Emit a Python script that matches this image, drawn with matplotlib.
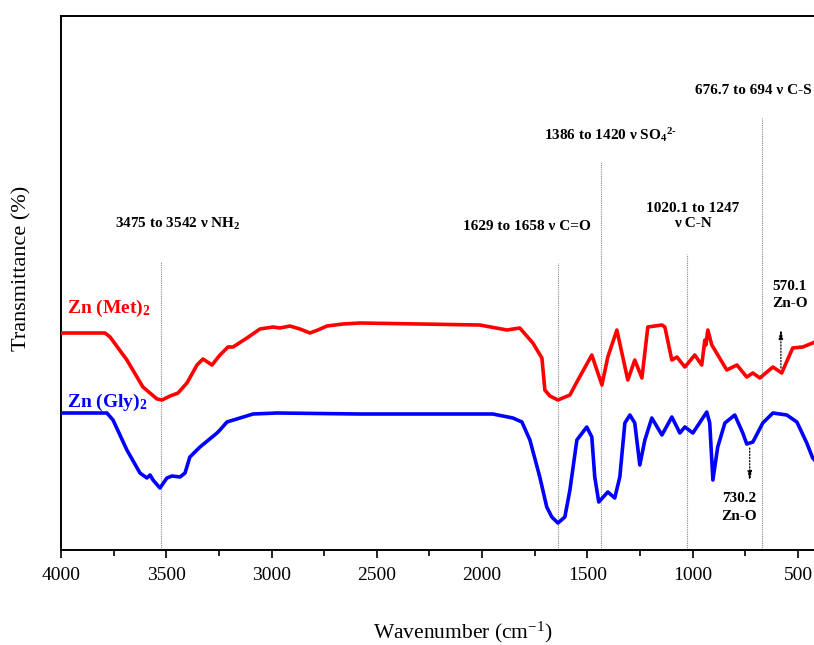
import numpy as np
import matplotlib
matplotlib.use("Agg")
import matplotlib.pyplot as plt
from matplotlib.ticker import MultipleLocator

plt.rcParams['font.family'] = ['Liberation Serif', 'DejaVu Serif']
plt.rcParams['mathtext.default'] = 'regular'

# FTIR spectra (wavenumber in cm-1, transmittance in arbitrary offset units)
met_wn = [4000, 3791, 3767, 3687, 3611, 3544, 3520, 3482, 3444, 3402, 3354, 3326,
          3283, 3245, 3207, 3183, 3117, 3055, 2993, 2960, 2913, 2865, 2818, 2780,
          2737, 2661, 2580, 2011, 1882, 1821, 1759, 1716, 1702, 1678, 1640, 1583,
          1550, 1479, 1431, 1403, 1360, 1308, 1275, 1241, 1213, 1146, 1132, 1099,
          1075, 1037, 990, 957, 942, 937, 928, 909, 838, 790, 743, 714, 681, 619,
          577, 525, 477, 430, 400]
met_t = [43.4, 43.4, 42.6, 38.0, 32.6, 30.2, 30.0, 30.8, 31.4, 33.4, 37.0, 38.2,
         37.0, 39.0, 40.6, 40.6, 42.4, 44.2, 44.6, 44.4, 44.8, 44.2, 43.4, 44.0,
         44.8, 45.2, 45.4, 45.0, 44.0, 44.4, 41.4, 38.4, 32.0, 30.8, 30.0, 31.0,
         33.6, 39.0, 33.0, 38.6, 44.0, 34.0, 38.0, 34.4, 44.6, 45.0, 44.6, 38.0,
         38.6, 36.6, 39.0, 37.0, 42.0, 41.0, 44.0, 41.0, 36.0, 37.0, 34.6, 35.4,
         34.4, 36.6, 35.4, 40.4, 40.6, 41.4, 42.0]

gly_wn = [4000, 3782, 3753, 3687, 3625, 3592, 3577, 3563, 3530, 3497, 3473, 3435,
          3411, 3388, 3340, 3259, 3245, 3212, 3088, 2974, 2580, 1949, 1854, 1811,
          1773, 1726, 1693, 1669, 1640, 1607, 1583, 1550, 1503, 1479, 1465, 1446,
          1403, 1370, 1346, 1322, 1298, 1275, 1251, 1227, 1194, 1146, 1099, 1075,
          1061, 1037, 999, 933, 919, 904, 881, 847, 800, 762, 743, 714, 667, 619,
          553, 505, 458, 430, 400]
gly_t = [27.4, 27.4, 26.0, 20.0, 15.4, 14.4, 15.0, 14.0, 12.4, 14.4, 14.8, 14.6,
         15.4, 18.6, 20.6, 23.4, 24.0, 25.6, 27.2, 27.4, 27.2, 27.2, 26.4, 25.6,
         22.0, 14.6, 8.6, 6.6, 5.4, 6.6, 12.0, 22.0, 24.6, 22.6, 14.6, 9.6,
         11.6, 10.4, 14.6, 25.4, 27.0, 25.4, 17.0, 22.0, 26.4, 23.0, 26.6, 24.6,
         23.4, 24.6, 23.4, 27.6, 25.4, 14.0, 20.6, 25.4, 27.0, 23.4, 21.2, 21.6,
         25.4, 27.4, 27.0, 25.6, 21.4, 18.4, 17.0]

# Band assignments: marker position, marker height, label, label position
band_wn = [3525, 1640, 1436, 1028, 672]
band_top = [57.6, 57.4, 77.6, 59.2, 86.4]
band_labels = ['3475 to 3542 ν NH$_2$', '1629 to 1658 ν C=O',
               '1386 to 1420 ν SO$_4$$^{2\u2010}$', '1020.1 to 1247\nν C-N',
               '676.7 to 694 ν C-S']
band_label_x = [3444, 1787, 1389, 999, 714]
band_label_y = [65.2, 64.8, 83.0, 66.8, 92.0]

# Zn-O peaks
zno_wn = [581, 729]
zno_from = [36.4, 20.4]
zno_to = [44.4, 13.6]
zno_labels = ['570.1\nZn-O', '730.2\nZn-O']
zno_label_x = [539, 781]
zno_label_y = [51.0, 8.5]

xticks = [4000, 3500, 3000, 2500, 2000, 1500, 1000, 500]

fig = plt.figure(figsize=(8.14, 6.45), dpi=100)
ax = fig.add_axes([61 / 814, 95 / 645, 758 / 814, 534 / 645])

for x, top in zip(band_wn, band_top):
    ax.plot([x, x], [0, top], color='#888888', lw=0.8, ls=(0, (1, 1)), zorder=1)

ax.plot(met_wn, met_t, color='#ff0000', lw=2.6, solid_joinstyle='round', zorder=3)
ax.plot(gly_wn, gly_t, color='#0000ff', lw=2.6, solid_joinstyle='round', zorder=3)

for lbl, x, y in zip(band_labels, band_label_x, band_label_y):
    ax.text(x, y, lbl, ha='center', va='center', fontsize=11, fontweight='bold',
            linespacing=1.25)

for x, y0, y1 in zip(zno_wn, zno_from, zno_to):
    ax.annotate('', xy=(x, y1), xytext=(x, y0),
                arrowprops=dict(arrowstyle='-|>,head_length=0.6,head_width=0.12',
                                color='black', lw=0.9, ls=(0, (1, 1.5)),
                                shrinkA=0, shrinkB=0))
for lbl, x, y in zip(zno_labels, zno_label_x, zno_label_y):
    ax.text(x, y, lbl, ha='center', va='center', fontsize=11, fontweight='bold',
            linespacing=1.45)

ax.text(3972, 48.4, 'Zn (Met)$_2$', color='#ff0000', fontsize=14, fontweight='bold',
        ha='left', va='center')
ax.text(3972, 29.6, 'Zn (Gly)$_2$', color='#0000ff', fontsize=14, fontweight='bold',
        ha='left', va='center')

ax.set_xlim(4000, 400)
ax.set_ylim(0, 106.8)
ax.set_xticks(xticks)
ax.set_xticklabels([str(t) for t in xticks])
ax.xaxis.set_minor_locator(MultipleLocator(250))
ax.tick_params(axis='x', which='major', direction='out', length=6, width=1.2,
               labelsize=14, pad=6, top=False)
ax.tick_params(axis='x', which='minor', direction='out', length=4, width=1.2, top=False)
ax.set_yticks([])
for side in ['left', 'bottom', 'top', 'right']:
    ax.spines[side].set_linewidth(1.4)

fig.text(463 / 814, 1 - 632 / 645, 'Wavenumber (cm$^{-1}$)', ha='center',
         va='center', fontsize=15.5)
fig.text(22 / 814, 1 - 268 / 645, 'Transmittance (%)', ha='center', va='center',
         rotation=90, fontsize=16)

fig.savefig('out.png', dpi=100)
